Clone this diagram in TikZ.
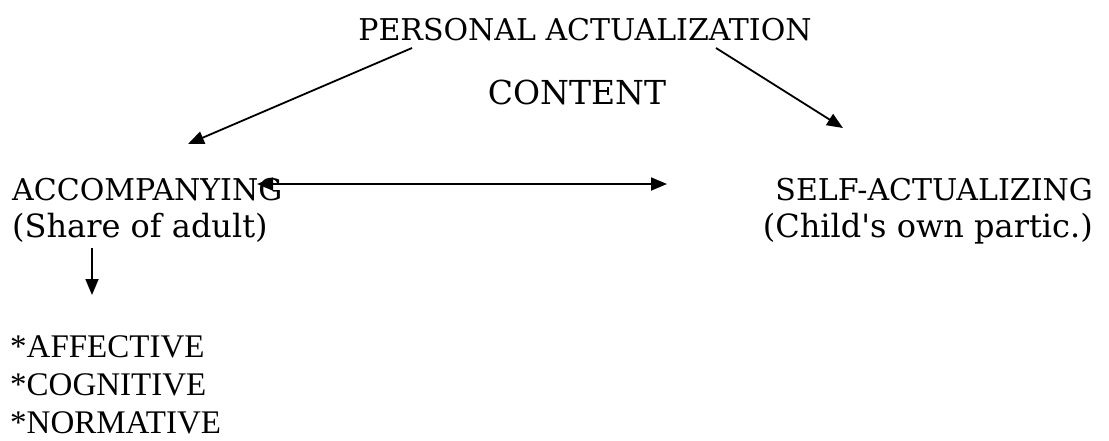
\documentclass[tikz,border=0pt]{standalone}
\usepackage{fontspec}
\setmainfont{DejaVu Serif}[Ligatures=TeXOff]
\newfontfamily\listfont{Liberation Serif}
\usetikzlibrary{arrows.meta}
\usetikzlibrary{positioning}

\begin{document}
\begin{tikzpicture}[x=1pt,y=-1pt,every node/.style={inner sep=0pt,font=\fontsize{30}{36}\selectfont},
  arr/.style={line width=1.8pt,-{Triangle[length=16pt,width=13pt]}},
  sub/.style={font=\fontsize{32}{38}\selectfont},
  item/.style={anchor=base west,font=\listfont\fontsize{33}{40}\selectfont}]
  \useasboundingbox (0,0) rectangle (1109,440);

  \node (pa) at (585,40)[anchor=base]{PERSONAL ACTUALIZATION};
  \node (ct) at (577,104)[anchor=base,font=\fontsize{33}{38}\selectfont]{CONTENT};
  \node (ac) at (12,200)[anchor=base west]{ACCOMPANYING};
  \node (sh) at (12,237)[anchor=base west,sub]{(Share of adult)};
  \node (sa) at (1093,200)[anchor=base east]{SELF-ACTUALIZING};
  \node (cp) at (1093,237)[anchor=base east,sub]{(Child's own partic.)};

  \node (af) at (10,357)[item]{*AFFECTIVE};
  \node[below=0pt of af.base west,anchor=base west,yshift=-38pt](cg)[item]{*COGNITIVE};
  \node[below=0pt of cg.base west,anchor=base west,yshift=-38pt](nm)[item]{*NORMATIVE};

  \coordinate (pa1) at (412,48);
  \coordinate (pa2) at (716,48);
  \coordinate (ac1) at (188,144);
  \coordinate (sa1) at (843,128);
  \coordinate (h1) at (257,184);
  \coordinate (h2) at (667,184);
  \coordinate (d1) at (92,248);
  \coordinate (d2) at (92,295);

  \draw[arr](pa1)--(ac1);
  \draw[arr](pa2)--(sa1);
  \draw[arr,{Triangle[length=16pt,width=13pt]}-{Triangle[length=16pt,width=13pt]}](h1)--(h2);
  \draw[arr](d1)--(d2);
\end{tikzpicture}
\end{document}
